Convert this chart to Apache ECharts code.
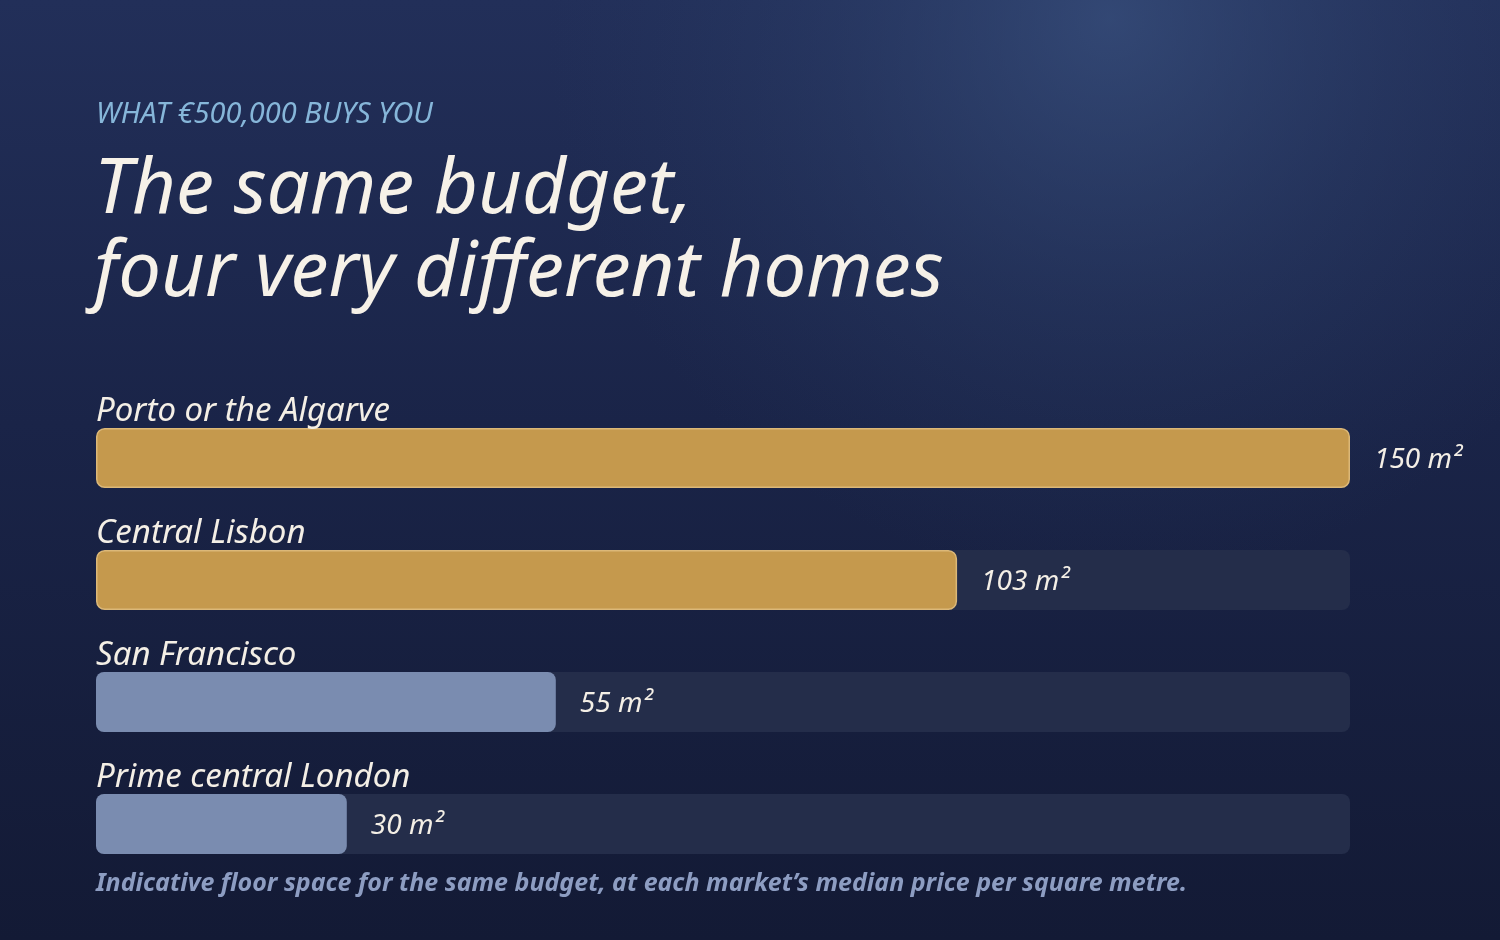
<!DOCTYPE html>
<html><head><meta charset="utf-8">
<script src="https://cdn.jsdelivr.net/npm/echarts@6/dist/echarts.min.js"></script>
<style>html,body{margin:0;padding:0;background:#18213f;}#c{width:1500px;height:940px;}</style>
</head><body><div id="c"></div>
<script>
const kicker = 'WHAT €500,000 BUYS YOU';
const titleLines = ['The same budget,', 'four very different homes'];
const footnote = 'Indicative floor space for the same budget, at each market\u2019s median price per square metre.';
const categories = ['Porto or the Algarve', 'Central Lisbon', 'San Francisco', 'Prime central London'];
const areas = [150, 103, 55, 30];
const unit = ' m\u00b2';
const portugal = ['Porto or the Algarve', 'Central Lisbon'];
const axisMax = 150;

const FONT = '"Noto Sans", Lato, sans-serif';
const GOLD = {color: '#c5994d', borderColor: '#dcb878', borderWidth: 1.5, borderRadius: 8};
const BLUE = {color: '#7a8cb0', borderWidth: 0, borderRadius: 8};
const barData = areas.map((v, i) => ({value: v, itemStyle: portugal.includes(categories[i]) ? GOLD : BLUE}));

const chart = echarts.init(document.getElementById('c'));
chart.setOption({
  animation: false,
  backgroundColor: {
    type: 'linear', x: 0, y: 0, x2: 0, y2: 1,
    colorStops: [{offset: 0, color: '#222f59'}, {offset: 0.45, color: '#1a2448'}, {offset: 1, color: '#131a35'}]
  },
  graphic: [
    {type: 'rect', z: -10, silent: true, shape: {x: 0, y: 0, width: 1500, height: 940},
     style: {fill: {type: 'radial', x: 0.74, y: 0.02, r: 0.6,
       colorStops: [{offset: 0, color: 'rgba(58,82,128,0.7)'}, {offset: 0.5, color: 'rgba(50,72,115,0.3)'}, {offset: 1, color: 'rgba(40,60,100,0)'}]}}},
    {type: 'text', left: 96, top: 100, style: {text: kicker, fill: '#86b6d9', font: 'italic 400 29px ' + FONT}},
    {type: 'text', left: 94, top: 150, style: {text: titleLines.join('\n'), fill: '#f6f1e8', font: 'italic 400 76px ' + FONT, lineHeight: 83}},
    {type: 'text', left: 96, top: 871, style: {text: footnote, fill: '#8d9dc2', font: 'italic 700 25px ' + FONT}}
  ],
  grid: {left: 96, right: 150, top: 397, bottom: 55, containLabel: false},
  xAxis: {type: 'value', min: 0, max: axisMax, show: false},
  yAxis: {
    type: 'category', data: categories, inverse: true, z: 5,
    axisLine: {show: false}, axisTick: {show: false}, splitLine: {show: false},
    axisLabel: {inside: true, margin: 0, align: 'left', verticalAlign: 'bottom',
      padding: [0, 0, 25, 0], color: '#f4efe6', fontFamily: FONT, fontStyle: 'italic', fontSize: 33, lineHeight: 42}
  },
  series: [{
    type: 'bar', data: barData, barWidth: 60,
    showBackground: true,
    backgroundStyle: {color: '#242d4a', borderRadius: 8},
    label: {show: true, position: 'right', distance: 24, offset: [0, 2], formatter: p => p.value + unit,
      color: '#f4efe6', fontFamily: FONT, fontStyle: 'italic', fontSize: 28}
  }]
});
</script></body></html>
